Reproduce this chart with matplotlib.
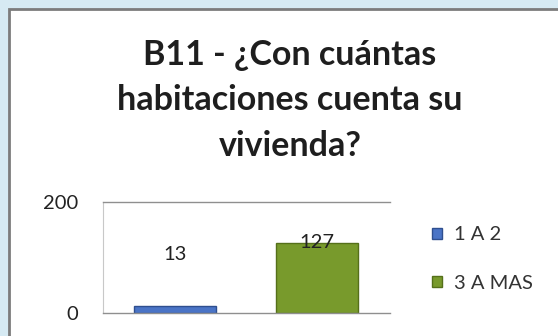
import matplotlib
matplotlib.use("Agg")
import matplotlib.pyplot as plt
from matplotlib.patches import Rectangle

plt.rcParams['font.family'] = ['Lato', 'DejaVu Sans']

title_lines = ["B11 - ¿Con cuántas", "habitaciones cuenta su", "vivienda?"]
series = ["1 A 2", "3 A MAS"]
values = [13, 127]
colors = ["#4a74c6", "#789a2c"]
edges = ["#2f4f8f", "#55701a"]
yticks = [0, 200]
label_y = [105, 127]

W, H = 558, 336
fig = plt.figure(figsize=(W / 100, H / 100), dpi=100)
fig.patch.set_facecolor("#d6eaf3")

# white chart panel with grey frame, running off the right and bottom edges
panel = Rectangle((9 / W, -0.1), 1.0, 1 - 9 / H + 0.1,
                  transform=fig.transFigure, facecolor="white",
                  edgecolor="#7c7c7c", linewidth=2.0, zorder=0)
fig.patches.append(panel)

for line, base in zip(title_lines, [65, 110, 156]):
    fig.text(290 / W, 1 - base / H, line, ha="center", va="baseline",
             fontsize=24.5, fontweight="bold", color="#1e1e1e", zorder=2)

ax = fig.add_axes([103 / W, 1 - 313 / H, 287 / W, 111 / H])
ax.set_zorder(2)
ax.set_facecolor("white")
x = [0, 1]
ax.bar(x, values, width=0.58, color=colors, edgecolor=edges,
       linewidth=1.0, zorder=2)
ax.set_xlim(-0.507, 1.514)
ax.set_ylim(0, 200)
ax.set_yticks(yticks)
ax.set_xticks([])
ax.tick_params(axis="y", length=0, labelsize=14.5, labelcolor="#222222", pad=18)
ax.spines["right"].set_visible(False)
for s in ["top", "bottom"]:
    ax.spines[s].set_color("#8f8f8f")
    ax.spines[s].set_linewidth(1.0)
ax.spines["left"].set_color("#c8c8c8")

for xi, v, ly in zip(x, values, label_y):
    ax.text(xi, ly, str(v), ha="center", va="center", fontsize=14.5,
            color="#222222", zorder=3)

handles = [Rectangle((0, 0), 1, 1, facecolor=c, edgecolor=e)
           for c, e in zip(colors, edges)]
leg = fig.legend(handles, series, loc="center left",
                 bbox_to_anchor=(432 / W, 1 - 259 / H), frameon=False,
                 fontsize=14.5, handlelength=0.5, handleheight=0.5,
                 handletextpad=0.6, labelspacing=1.55, borderpad=0,
                 borderaxespad=0)
for t in leg.get_texts():
    t.set_color("#333333")

fig.savefig("out.png", dpi=100, facecolor=fig.get_facecolor())
